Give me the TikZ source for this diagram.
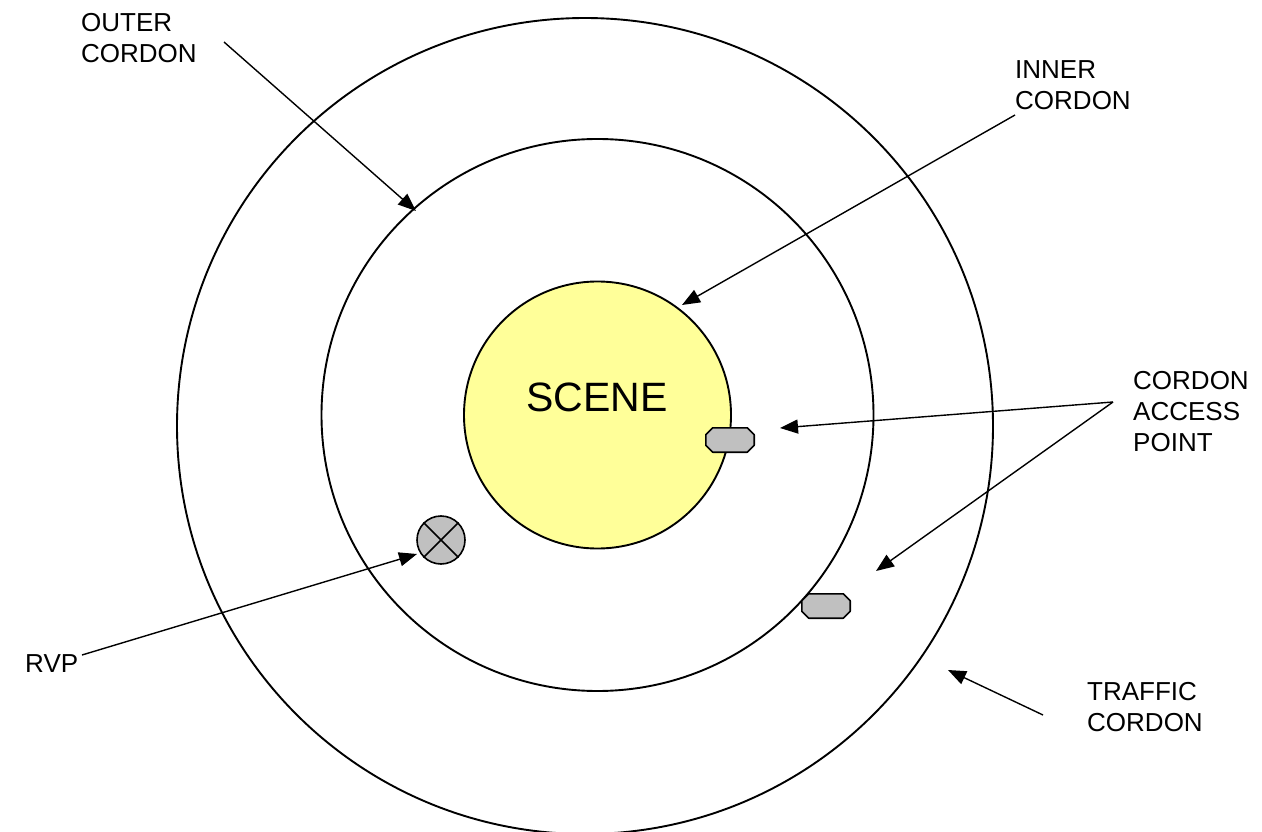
\documentclass[tikz,border=0pt]{standalone}
\usepackage{fontspec}
\setmainfont{Liberation Sans}
\usetikzlibrary{arrows.meta,calc}
\definecolor{scenefill}{HTML}{FFFF99}
\definecolor{markergray}{HTML}{C0C0C0}
\tikzset{
  ring/.style={draw=black,line width=1.9pt},
  label text/.style={font=\fontsize{26}{31}\selectfont,align=left,anchor=west,inner sep=0pt},
  pointer/.style={draw=black,line width=1.4pt,-{Triangle[length=18pt,width=14pt]}},
  access/.style={rectangle,minimum width=48pt,minimum height=24pt,inner sep=0pt},
  accessbody/.style={draw=black,line width=1.6pt,fill=markergray,line join=round},
  rvp/.style={circle,draw=black,line width=1.6pt,fill=markergray,minimum size=48pt,inner sep=0pt},
}
% chamfered outline round a named access node
\newcommand{\accessoutline}[1]{%
  \draw[accessbody] ($(#1.north west)+(7,0)$) -- ($(#1.north east)+(-7,0)$)
    -- ($(#1.north east)+(0,7)$) -- ($(#1.south east)+(0,-7)$)
    -- ($(#1.south east)+(-7,0)$) -- ($(#1.south west)+(7,0)$)
    -- ($(#1.south west)+(0,-7)$) -- ($(#1.north west)+(0,7)$) -- cycle;}
\begin{document}
\begin{tikzpicture}[x=1pt,y=-1pt]
\useasboundingbox (0,0) rectangle (1262,832);
\clip (0,0) rectangle (1262,832);
\fill[white] (0,0) rectangle (1262,832);

% cordon rings and the scene
\draw[ring] (585,426) circle (408);
\draw[ring] (597.5,415) circle (276);
\draw[ring,fill=scenefill] (597.5,415) circle (133.5);
\node[font=\fontsize{41}{45}\selectfont] (scene) at (597,397) {SCENE};

% cordon access points
\node[access] (cap1) at (730,440) {};
\node[access] (cap2) at (826,606) {};
\accessoutline{cap1}
\accessoutline{cap2}

% rendezvous point
\node[rvp] (rvpmark) at (441,540) {};
\draw[line width=1.6pt] (rvpmark.45) -- (rvpmark.225) (rvpmark.135) -- (rvpmark.315);

% labels
\node[label text] (outer) at (81,38) {OUTER\\CORDON};
\node[label text] (inner) at (1015,85) {INNER\\CORDON};
\node[label text] (access) at (1133,412) {CORDON\\ACCESS\\POINT};
\node[label text] (rvp) at (25,664) {RVP};
\node[label text] (traffic) at (1087,707) {TRAFFIC\\CORDON};

% pointer start and end points
\coordinate (outerS) at (224,42);
\coordinate (outerE) at (416,211);
\coordinate (innerS) at (1015,115);
\coordinate (innerE) at (682,305);
\coordinate (accS) at (1113,402);
\coordinate (accE1) at (780,428);
\coordinate (accE2) at (876,571);
\coordinate (rvpS) at (82,655);
\coordinate (rvpE) at (417,554);
\coordinate (trafS) at (1043,715);
\coordinate (trafE) at (948,670);

\draw[pointer] (outerS) -- (outerE);
\draw[pointer] (innerS) -- (innerE);
\draw[pointer] (accS) -- (accE1);
\draw[pointer] (accS) -- (accE2);
\draw[pointer] (rvpS) -- (rvpE);
\draw[pointer] (trafS) -- (trafE);
\end{tikzpicture}
\end{document}
